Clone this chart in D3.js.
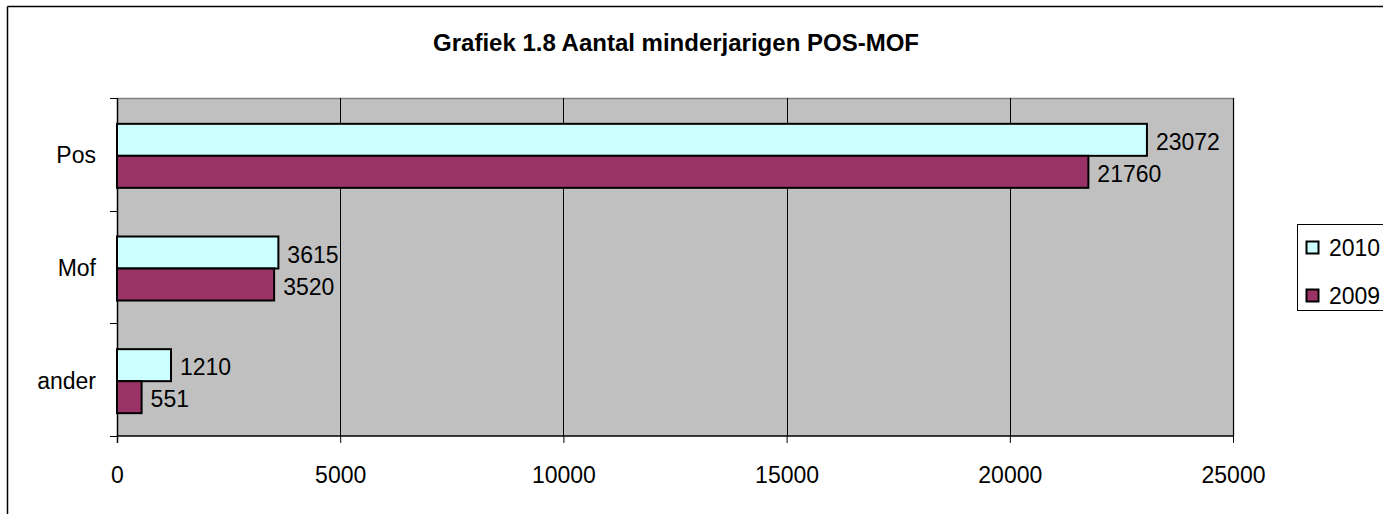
<!DOCTYPE html>
<html><head><meta charset="utf-8">
<script src="https://cdn.jsdelivr.net/npm/d3@7"></script>
<style>body{margin:0;background:#fff}svg{display:block}text{font-family:"Liberation Sans",Arial,sans-serif}</style>
</head><body>
<script>
const title = "Grafiek 1.8 Aantal minderjarigen POS-MOF";
const categories = ["Pos", "Mof", "ander"];
const seriesNames = ["2010", "2009"];
const values2010 = [23072, 3615, 1210];
const values2009 = [21760, 3520, 551];
const xTicks = [0, 5000, 10000, 15000, 20000, 25000];
const colors = ["#ccffff", "#993366"];

const W = 1383, H = 514;
const FS = 23;
const svg = d3.select("body").append("svg").attr("width", W).attr("height", H);

// outer chart border (partially visible)
svg.append("line").attr("x1", 7.5).attr("x2", W).attr("y1", 6.5).attr("y2", 6.5).attr("stroke", "#000").attr("stroke-width", 1.5);
svg.append("line").attr("x1", 7.5).attr("x2", 7.5).attr("y1", 6.5).attr("y2", H).attr("stroke", "#000").attr("stroke-width", 1.5);

const L = 117, R = 1233, T = 98, B = 436;
const x = d3.scaleLinear().domain([0, 25000]).range([L, R]);
const y = d3.scaleBand().domain(categories).range([T, B]);

svg.append("rect").attr("x", L).attr("y", T).attr("width", R - L).attr("height", B - T).attr("fill", "#c0c0c0");
// top/right border
svg.append("path").attr("d", `M${L},${T + 0.5}H${R + 0.5}V${B}`).attr("fill", "none").attr("stroke", "#808080").attr("stroke-width", 1.5);

// gridlines
svg.append("g").selectAll("line").data(xTicks.slice(1)).join("line")
  .attr("x1", d => Math.round(x(d)) + 0.5).attr("x2", d => Math.round(x(d)) + 0.5)
  .attr("y1", T).attr("y2", B).attr("stroke", "#000").attr("stroke-width", 1);

// title
svg.append("text").attr("x", 676).attr("y", 51).attr("text-anchor", "middle")
  .attr("font-size", 24).attr("font-weight", "bold").text(title);

// x axis
const xAxis = svg.append("g").attr("transform", `translate(0,${B})`)
  .call(d3.axisBottom(x).tickValues(xTicks).tickFormat(d3.format("d")).tickSize(7));
xAxis.select(".domain").attr("stroke", "#000").attr("stroke-width", 1.5).attr("d", `M${L},0H${R}`);
xAxis.selectAll(".tick line").attr("stroke", "#000");
xAxis.selectAll("text").attr("font-size", FS).attr("font-family", "Liberation Sans, Arial, sans-serif")
  .attr("fill", "#000").attr("y", 47).attr("dy", null);

// y axis
const yTickVals = [T, T + (B - T) / 3, T + 2 * (B - T) / 3, B];
const yAxisG = svg.append("g");
yAxisG.append("line").attr("x1", L + 0.5).attr("x2", L + 0.5).attr("y1", T).attr("y2", B + 7).attr("stroke", "#000").attr("stroke-width", 1.5);
yAxisG.selectAll("line.t").data(yTickVals).join("line").attr("class", "t")
  .attr("x1", L - 7).attr("x2", L).attr("y1", d => Math.round(d) + 0.5).attr("y2", d => Math.round(d) + 0.5).attr("stroke", "#000");
yAxisG.selectAll("text").data(categories).join("text")
  .attr("x", 96).attr("y", d => y(d) + y.bandwidth() / 2 + 9).attr("text-anchor", "end")
  .attr("font-size", FS).text(d => d);

// bars
const barH = 32;
const series = [values2010, values2009];
series.forEach((vals, si) => {
  const g = svg.append("g");
  const top = d => y(d) + y.bandwidth() / 2 - barH + 1.5 + si * barH;
  g.selectAll("rect").data(categories).join("rect")
    .attr("x", L).attr("y", top)
    .attr("width", (d, i) => x(vals[i]) - L).attr("height", barH)
    .attr("fill", colors[si]).attr("stroke", "#000").attr("stroke-width", 2);
  g.selectAll("text").data(categories).join("text")
    .attr("x", (d, i) => x(vals[i]) + 9)
    .attr("y", d => top(d) + barH / 2 + 10)
    .attr("font-size", FS).text((d, i) => vals[i]);
});

// legend
const lg = svg.append("g");
lg.append("rect").attr("x", 1297.5).attr("y", 224.5).attr("width", 100).attr("height", 86).attr("fill", "#fff").attr("stroke", "#000").attr("stroke-width", 1);
seriesNames.forEach((s, i) => {
  const cy = 247.5 + i * 48;
  lg.append("rect").attr("x", 1306.5).attr("y", cy - 6).attr("width", 12).attr("height", 12)
    .attr("fill", colors[i]).attr("stroke", "#000").attr("stroke-width", 2);
  lg.append("text").attr("x", 1329).attr("y", cy + 8.5).attr("font-size", FS).text(s);
});
</script>
</body></html>
